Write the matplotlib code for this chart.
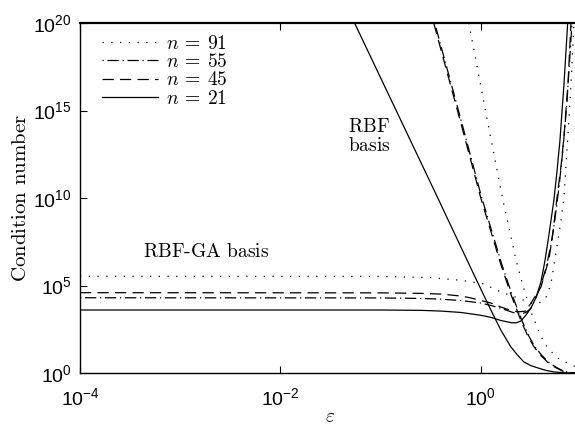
import numpy as np
import matplotlib
matplotlib.use("Agg")
import matplotlib.pyplot as plt

plt.rcParams["font.family"] = ["Liberation Sans", "DejaVu Sans"]
plt.rcParams["mathtext.fontset"] = "cm"

# values, stored as log10(epsilon) / log10(condition number)
ga21_x = [-4, -1.0, -0.6, -0.4, -0.2, 0.0, 0.1, 0.2, 0.3, 0.35, 0.4, 0.45, 0.5, 0.55, 0.6, 0.64, 0.68, 0.73, 0.76, 0.79, 0.83, 0.867]
ga21_y = [3.6, 3.6, 3.58, 3.54, 3.46, 3.3, 3.18, 3.0, 2.88, 2.86, 2.97, 3.3, 3.71, 4.3, 5.2, 6.4, 7.9, 9.9, 11.5, 13.3, 16.5, 20]

ga45_x = [-4, -1.0, -0.6, -0.4, -0.2, -0.1, 0.1, 0.2, 0.3, 0.37, 0.45, 0.52, 0.6, 0.65, 0.68, 0.72, 0.76, 0.8, 0.83, 0.87, 0.9]
ga45_y = [4.59, 4.58, 4.55, 4.51, 4.4, 4.29, 4.0, 3.77, 3.58, 3.49, 3.54, 4.17, 4.91, 5.9, 6.5, 8.0, 10.0, 11.8, 13.5, 16.5, 20]

ga55_x = [-4, -1.0, -0.6, -0.4, -0.2, 0.0, 0.1, 0.2, 0.3, 0.37, 0.45, 0.5, 0.55, 0.6, 0.65, 0.7, 0.74, 0.78, 0.82, 0.86, 0.91]
ga55_y = [4.3, 4.29, 4.26, 4.22, 4.14, 4.0, 3.86, 3.7, 3.5, 3.37, 3.45, 3.7, 4.3, 5.0, 6.0, 7.3, 8.8, 10.6, 12.8, 15.5, 20]

ga91_x = [-4, -1.0, -0.5, -0.2, 0.03, 0.2, 0.37, 0.5, 0.55, 0.6, 0.65, 0.7, 0.75, 0.8, 0.83, 0.87, 0.9, 0.93]
ga91_y = [5.53, 5.52, 5.45, 5.3, 5.09, 4.63, 4.29, 4.0, 3.95, 4.05, 4.3, 5.1, 6.86, 8.7, 10.06, 13.6, 16.5, 20]

rbf21_x = [-1.26, -0.42, -0.1, 0.1, 0.15, 0.2, 0.3, 0.37, 0.43, 0.5, 0.57, 0.65, 0.73, 0.85, 0.95]
rbf21_y = [20, 9.89, 6.0, 3.6, 3.03, 2.45, 1.49, 1.0, 0.63, 0.42, 0.29, 0.15, 0.06, 0.01, 0.0]

rbf45_x = [-0.47, -0.2, 0.0, 0.2, 0.3, 0.4, 0.47, 0.53, 0.6, 0.67, 0.75, 0.82, 0.9, 0.95]
rbf45_y = [20, 14.3, 10.0, 6.2, 4.5, 3.0, 2.1, 1.5, 1.0, 0.6, 0.3, 0.1, 0.0, 0.0]

rbf55_x = [-0.46, -0.19, 0.01, 0.21, 0.31, 0.41, 0.48, 0.54, 0.61, 0.68, 0.76, 0.83, 0.9, 0.95]
rbf55_y = [20, 14.3, 10.0, 6.2, 4.5, 3.0, 2.1, 1.5, 1.0, 0.6, 0.3, 0.1, 0.02, 0.0]

rbf91_x = [-0.12, 0.0, 0.1, 0.22, 0.35, 0.42, 0.5, 0.6, 0.67, 0.77, 0.9, 0.95]
rbf91_y = [20, 16.4, 13.4, 9.9, 6.5, 5.0, 3.5, 2.1, 1.4, 0.85, 0.46, 0.35]

labels = [r"$n\:=\:91$", r"$n\:=\:55$", r"$n\:=\:45$", r"$n\:=\:21$"]

dotted = (0, (1, 6))
dashdot = (0, (1, 3, 9, 3))
dashed = (0, (9, 5))
lw = 0.9

fig = plt.figure(figsize=(5.75, 4.28), dpi=100)
ax = fig.add_axes([80 / 575, 55 / 428, 500 / 575, 350 / 428])

def p(xs, ys, ls, label=None):
    ax.plot(10.0 ** np.array(xs), 10.0 ** np.array(ys), color="black", lw=lw, linestyle=ls, label=label)

p(ga91_x, ga91_y, dotted, labels[0])
p(ga55_x, ga55_y, dashdot, labels[1])
p(ga45_x, ga45_y, dashed, labels[2])
p(ga21_x, ga21_y, "-", labels[3])
p(rbf91_x, rbf91_y, dotted)
p(rbf55_x, rbf55_y, dashdot)
p(rbf45_x, rbf45_y, dashed)
p(rbf21_x, rbf21_y, "-")

ax.set_xscale("log")
ax.set_yscale("log")
ax.set_xlim(1e-4, 10 ** 0.99)
ax.set_ylim(1e0, 1e20)
ax.set_xticks([1e-4, 1e-2, 1e0])
ax.set_yticks([1e0, 1e5, 1e10, 1e15, 1e20])
ax.minorticks_off()
ax.tick_params(direction="in", length=5, width=0.8, top=True, right=False, labelsize=14)
ax.tick_params(axis="x", pad=10)
ax.tick_params(axis="y", pad=6)
for s in ax.spines.values():
    s.set_linewidth(1.0)
ax.spines["top"].set_linewidth(1.6)

ax.set_xlabel(r"$\varepsilon$", fontsize=14, labelpad=0)
ax.set_ylabel(r"$\text{Condition number}$", fontsize=15, labelpad=2)

ax.text(10 ** -1.33, 10 ** 13.5, "$\\text{RBF}$\n$\\text{basis}$", fontsize=14, ha="left", va="center", linespacing=1.1)
ax.text(10 ** -3.37, 10 ** 6.9, r"$\text{RBF-GA basis}$", fontsize=14, ha="left", va="center")

ax.legend(loc="upper left", frameon=False, fontsize=14, handlelength=2.9, handletextpad=0.4,
          labelspacing=0.02, borderaxespad=0.2, bbox_to_anchor=(0.02, 1.0))

fig.savefig("out.png", dpi=100)
